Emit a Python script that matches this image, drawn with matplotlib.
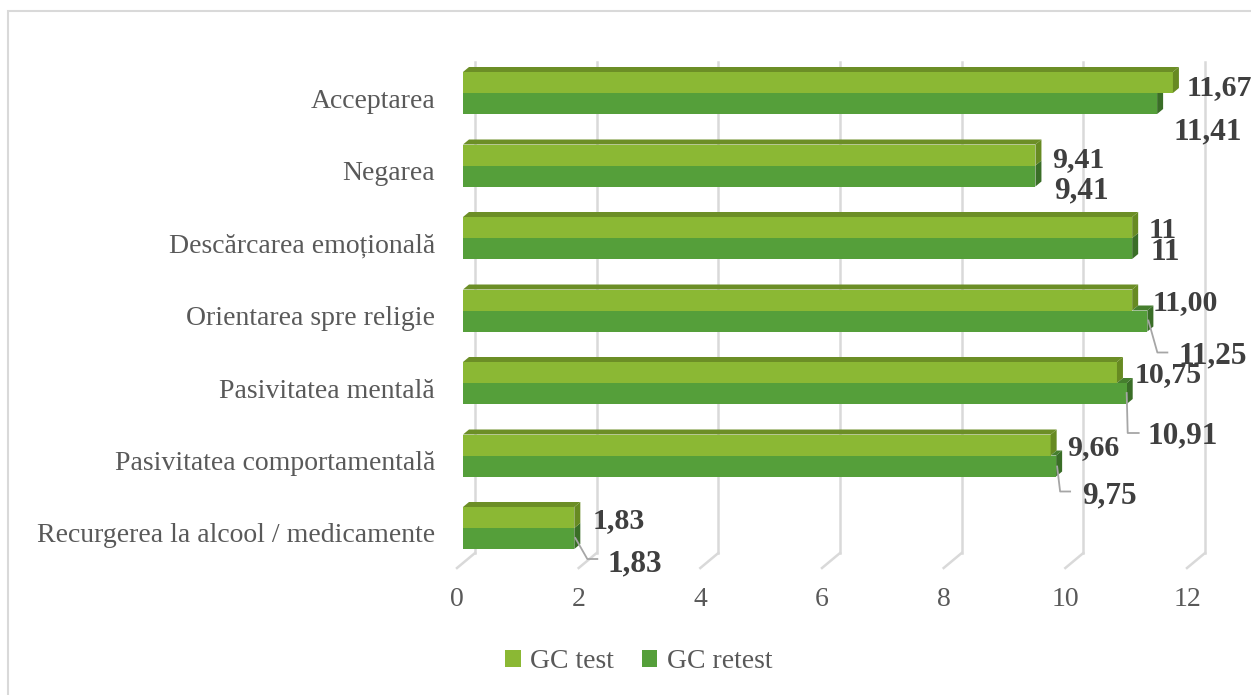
import numpy as np
import matplotlib
matplotlib.use('Agg')
import matplotlib.pyplot as plt
from matplotlib.patches import Polygon, Rectangle, Patch

# coping strategies, listed bottom to top as they appear on the chart
categories = ['Recurgerea la alcool / medicamente', 'Pasivitatea comportamentală',
              'Pasivitatea mentală', 'Orientarea spre religie',
              'Descărcarea emoțională', 'Negarea', 'Acceptarea']
gc_test = [1.83, 9.66, 10.75, 11.00, 11, 9.41, 11.67]
gc_retest = [1.83, 9.75, 10.91, 11.25, 11, 9.41, 11.41]
decimals = [2, 2, 2, 2, 0, 2, 2]
series_names = ['GC test', 'GC retest']
xticks = [0, 2, 4, 6, 8, 10, 12]

W, H, DPI = 1251, 695, 100
c_test, c_test_top, c_test_side = '#8BB834', '#6C8E26', '#678A22'
c_ret, c_ret_top, c_ret_side = '#559F3A', '#467F2E', '#3A6E27'
grid_c = '#D9D9D9'
lbl_c = '#3F3F3F'
txt_c = '#595959'
serif = ['Liberation Serif', 'DejaVu Serif']

fig = plt.figure(figsize=(W / DPI, H / DPI), dpi=DPI)
ax_l, ax_w, ax_b, ax_h = 457, 730, 568, 506
ax = fig.add_axes([ax_l / W, (H - ax_b) / H, ax_w / W, ax_h / H])
pitch = 72.5
ylo = -(ax_b - 528) / pitch
ax.set_xlim(0, 12)
ax.set_ylim(ylo, ylo + ax_h / pitch)
for s in ax.spines.values():
    s.set_visible(False)

# pixel -> data helpers
px = 12 / ax_w
py = 1 / pitch
floor_dx, floor_dy = 18 * px, 15 * py   # full floor depth
bar_dx, bar_dy = 6 * px, 5 * py         # bar depth
x0 = 6 * px                             # bars sit a third of the way in
bh = 21 * py

# back wall + floor grid
ytop = ax.get_ylim()[1] - floor_dy
for t in xticks:
    ax.plot([t + floor_dx, t + floor_dx], [ylo + floor_dy, ytop + floor_dy],
            color=grid_c, lw=1.8, zorder=1, clip_on=False)
    ax.plot([t, t + floor_dx], [ylo, ylo + floor_dy], color=grid_c, lw=1.8,
            zorder=1, clip_on=False)

def face(pts, color, z):
    ax.add_patch(Polygon(pts, closed=True, facecolor=color, edgecolor='none', zorder=z))

def front(x_end, y0, color, z):
    face([(x0, y0), (x_end, y0), (x_end, y0 + bh), (x0, y0 + bh)], color, z)

def top(xa, xb, y, color, z):
    face([(xa, y), (xb, y), (xb + bar_dx, y + bar_dy), (xa + bar_dx, y + bar_dy)], color, z)

def side(x, ya, yb, color, z):
    face([(x, ya), (x, yb), (x + bar_dx, yb + bar_dy), (x + bar_dx, ya + bar_dy)], color, z)

for i in range(len(categories)):
    B = i
    et, er = x0 + gc_test[i], x0 + gc_retest[i]
    z = 3
    if gc_retest[i] <= gc_test[i]:
        side(er, B - bh, B, c_ret_side, z)
        front(et, B, c_test, z + 1)
        top(x0, et, B + bh, c_test_top, z + 1)
        side(et, B, B + bh, c_test_side, z + 1)
        front(er, B - bh, c_ret, z + 2)
    else:
        front(et, B, c_test, z)
        top(x0, et, B + bh, c_test_top, z)
        side(et, B, B + bh, c_test_side, z)
        top(et, er, B, c_ret_top, z + 1)
        side(er, B - bh, B, c_ret_side, z + 1)
        front(er, B - bh, c_ret, z + 2)

# value labels: (dx px from bar end, baseline px below the test/retest seam)
test_off = [(18, 0), (16, 0), (18, -1), (20, -0.5), (16, 0), (16.6, 1.5), (14, 2)]
ret_off = [(33, 43), (26, 47.5), (21, 60), (31, 52.5), (18, 22), (19, 32.5), (16, 46)]
leaders = {0: [(1, 10), (13, 31), (23, 31)],
           1: [(1, 11), (4, 36), (14, 36)],
           2: [(0, 10), (1, 50), (12, 50)],
           3: [(1, 10), (10, 42), (20, 42)]}

def fmt(v, d):
    return f'{v:.{d}f}'.replace('.', ',')

for i in range(len(categories)):
    et, er = x0 + gc_test[i], x0 + gc_retest[i]
    dx, dy = test_off[i]
    ax.text(et + dx * px, i - dy * py, fmt(gc_test[i], decimals[i]), ha='left',
            va='baseline', fontsize=21.5, fontweight='bold', color=lbl_c,
            family=serif, zorder=8, clip_on=False)
    dx, dy = ret_off[i]
    ax.text(er + dx * px, i - dy * py, fmt(gc_retest[i], decimals[i]), ha='left',
            va='baseline', fontsize=22.5, fontweight='bold', color=lbl_c,
            family=serif, zorder=8, clip_on=False)
    if i in leaders:
        pts = leaders[i]
        ax.plot([er + p[0] * px for p in pts], [i - p[1] * py for p in pts],
                color='#A6A6A6', lw=1.3, zorder=7, clip_on=False)

ax.set_yticks([i - 5 * py for i in range(len(categories))])
ax.set_yticklabels(categories, fontsize=20, color=txt_c, family=serif)
ax.set_xticks(xticks)
ax.set_xticklabels([str(t) for t in xticks], fontsize=20, color=txt_c, family=serif)
ax.tick_params(axis='both', length=0)
ax.tick_params(axis='y', pad=15.8)
ax.tick_params(axis='x', pad=14)

handles = [Patch(facecolor=c_test), Patch(facecolor=c_ret)]
fig.legend(handles, series_names, loc='center', bbox_to_anchor=(639 / W, 1 - 662 / H),
           ncol=2, frameon=False, handlelength=0.55, handleheight=0.55,
           handletextpad=0.35, columnspacing=1.0,
           prop={'family': serif, 'size': 20}, labelcolor=txt_c)

# chart area border
fig.add_artist(Rectangle((8 / W, -10 / H), (W + 10) / W, (H - 11 + 10) / H,
                         transform=fig.transFigure, fill=False, edgecolor=grid_c,
                         lw=1.5, clip_on=False))

fig.savefig('out.png', dpi=DPI)
